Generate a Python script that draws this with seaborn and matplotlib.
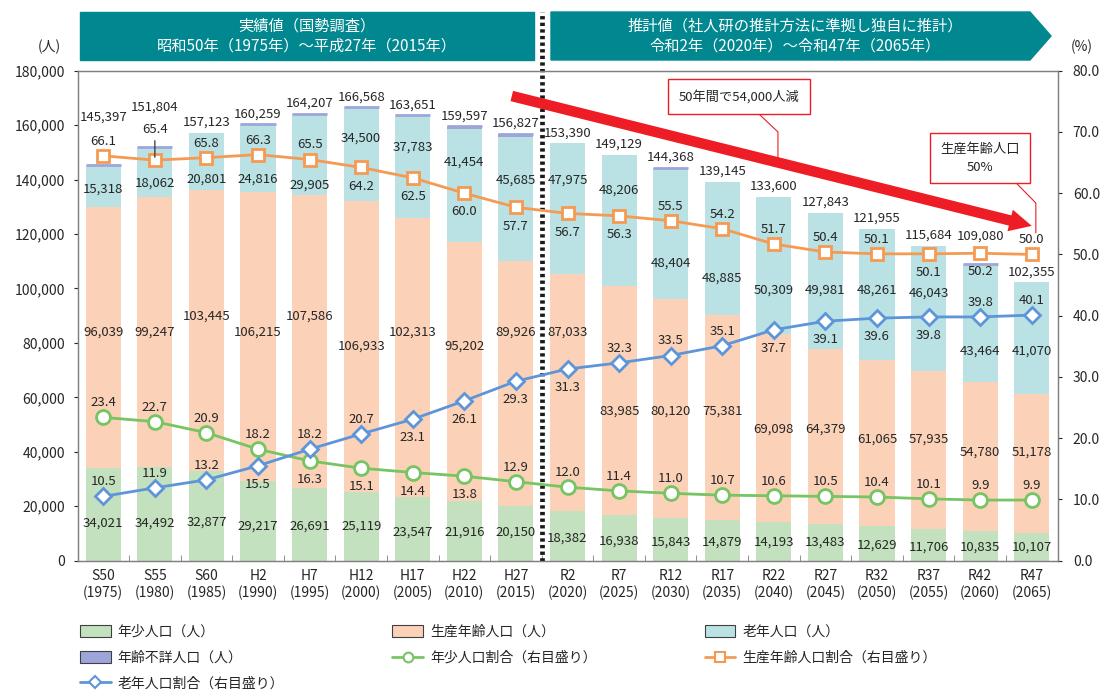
import numpy as np
import pandas as pd
import seaborn as sns
import matplotlib.pyplot as plt
from matplotlib.patches import Rectangle, Polygon, Patch
from matplotlib.lines import Line2D
from matplotlib.ticker import FuncFormatter, MultipleLocator

periods = ["S50", "S55", "S60", "H2", "H7", "H12", "H17", "H22", "H27",
           "R2", "R7", "R12", "R17", "R22", "R27", "R32", "R37", "R42", "R47"]
years = [1975, 1980, 1985, 1990, 1995, 2000, 2005, 2010, 2015,
         2020, 2025, 2030, 2035, 2040, 2045, 2050, 2055, 2060, 2065]

young = [34021, 34492, 32877, 29217, 26691, 25119, 23547, 21916, 20150,
         18382, 16938, 15843, 14879, 14193, 13483, 12629, 11706, 10835, 10107]
working = [96039, 99247, 103445, 106215, 107586, 106933, 102313, 95202, 89926,
           87033, 83985, 80120, 75381, 69098, 64379, 61065, 57935, 54780, 51178]
old = [15318, 18062, 20801, 24816, 29905, 34500, 37783, 41454, 45685,
       47975, 48206, 48404, 48885, 50309, 49981, 48261, 46043, 43464, 41070]
total = [145397, 151804, 157123, 160259, 164207, 166568, 163651, 159597, 156827,
         153390, 149129, 144368, 139145, 133600, 127843, 121955, 115684, 109080, 102355]

young_pct = [23.4, 22.7, 20.9, 18.2, 16.3, 15.1, 14.4, 13.8, 12.9,
             12.0, 11.4, 11.0, 10.7, 10.6, 10.5, 10.4, 10.1, 9.9, 9.9]
working_pct = [66.1, 65.4, 65.8, 66.3, 65.5, 64.2, 62.5, 60.0, 57.7,
               56.7, 56.3, 55.5, 54.2, 51.7, 50.4, 50.1, 50.1, 50.2, 50.0]
old_pct = [10.5, 11.9, 13.2, 15.5, 18.2, 20.7, 23.1, 26.1, 29.3,
           31.3, 32.3, 33.5, 35.1, 37.7, 39.1, 39.6, 39.8, 39.8, 40.1]

# where the value labels sit (thousands of people), as arranged in the original
young_lbl = [13.7, 13.7, 14.0, 12.7, 12.7, 12.7, 10.5, 10.5, 10.5,
             8.2, 7.2, 6.7, 6.7, 7.0, 7.0, 5.8, 5.1, 5.1, 5.1]
work_lbl = [84.1, 84.1, 89.9, 84.1, 89.9, 79.0, 84.1, 79.0, 84.1,
            84.1, 55.0, 55.0, 55.0, 48.3, 48.3, 44.7, 44.7, 39.8, 39.8]
old_lbl = [136.6, 138.8, 140.3, 140.3, 138.1, 155.2, 152.1, 146.3, 139.9,
           139.9, 136.2, 109.3, 103.8, 99.5, 99.5, 99.5, 98.2, 77.0, 77.0]
total_lift = [34.5, 29, 7.5, 7.5, 7.5, 7.5, 7.5, 7.5, 7.5,
              7.5, 7.5, 7.5, 7.5, 7.5, 7.5, 7.5, 7.5, 20, 7.5]
# +1 label above the marker, -1 below
young_side = [1, 1, 1, 1, -1, -1, -1, -1, 1, 1, 1, 1, 1, 1, 1, 1, 1, 1, 1]
work_side = [1, 1, 1, 1, 1, -1, -1, -1, -1, -1, -1, 1, 1, 1, 1, 1, -1, -1, 1]
old_side = [1, 1, 1, -1, 1, 1, -1, -1, -1, -1, 1, 1, 1, -1, -1, -1, -1, 1, 1]

c_young = "#C4E1BF"
c_work = "#FBD2B8"
c_old = "#BAE2E4"
c_unknown = "#9DA6D9"
c_young_ln = "#77C463"
c_work_ln = "#F59A52"
c_old_ln = "#5D95D8"
c_banner = "#00878F"
c_red = "#EE1C25"
c_text = "#262626"

sns.set_style("ticks")
plt.rcParams["font.family"] = ["Noto Sans CJK JP", "DejaVu Sans"]

W, H = 1105, 691
def fx(px):
    return px / W
def fy(py):
    return 1 - py / H

df = pd.DataFrame({"period": periods, "young": young, "working": working,
                   "old": old, "total": total})
df["cum_work"] = df["young"] + df["working"]
df["cum_old"] = df["cum_work"] + df["old"]
df["unknown"] = df["total"] - df["cum_old"]

fig = plt.figure(figsize=(11.05, 6.91), dpi=100)
ax = fig.add_axes([fx(77.5), fy(560.7), (1057.5 - 77.5) / W, (560.7 - 70.7) / H])

bw = 0.68
for col, c in [("total", c_unknown), ("cum_old", c_old),
               ("cum_work", c_work), ("young", c_young)]:
    sns.barplot(data=df, x="period", y=col, color=c, width=bw, saturation=1,
                errorbar=None, ax=ax, linewidth=0)
# thin unknown-age slice gets a minimum visible band, as in the source chart
for i, u in enumerate(df["unknown"]):
    if u > 0:
        ax.hlines(total[i], i - bw / 2, i + bw / 2, color=c_unknown, lw=2, zorder=2)

ax.set_xlim(-0.5, len(periods) - 0.5)
ax.set_ylim(0, 180000)
ax.yaxis.set_major_locator(MultipleLocator(20000))
ax.yaxis.set_major_formatter(FuncFormatter(lambda v, p: f"{int(v):,}"))
ax.set_xticks(range(len(periods)))
ax.set_xticklabels([f"{p}\n({y})" for p, y in zip(periods, years)],
                   fontsize=10, linespacing=1.25, color=c_text)
ax.set_xticks(np.arange(len(periods) - 1) + 0.5, minor=True)
ax.tick_params(axis="x", which="major", length=0, pad=6)
ax.tick_params(axis="x", which="minor", direction="in", length=4, color="#808080")
ax.tick_params(axis="y", length=3, pad=6, labelsize=10, colors=c_text)
ax.set_xlabel("")
ax.set_ylabel("")

ax2 = ax.twinx()
ax2.set_ylim(0, 80)
ax2.yaxis.set_major_locator(MultipleLocator(10))
ax2.yaxis.set_major_formatter(FuncFormatter(lambda v, p: f"{v:.1f}"))
ax2.tick_params(axis="y", length=3, pad=8, labelsize=10, colors=c_text)

for a in (ax, ax2):
    for s in a.spines.values():
        s.set_color("#808080")
        s.set_linewidth(0.9)

x = np.arange(len(periods))
sns.lineplot(x=x, y=young_pct, ax=ax2, color=c_young_ln, lw=2, marker="o",
             ms=10, mfc="white", mec=c_young_ln, mew=2)
sns.lineplot(x=x, y=working_pct, ax=ax2, color=c_work_ln, lw=2, marker="s",
             ms=9, mfc="white", mec=c_work_ln, mew=2)
sns.lineplot(x=x, y=old_pct, ax=ax2, color=c_old_ln, lw=2, marker="D",
             ms=8.5, mfc="white", mec=c_old_ln, mew=2)
ax2.set_xlim(-0.5, len(periods) - 0.5)
ax2.set_ylabel("")

lab = dict(ha="center", va="center", fontsize=9.5, color=c_text)
for i in range(len(periods)):
    ax.text(i, young_lbl[i] * 1000, f"{young[i]:,}", **lab)
    ax.text(i, work_lbl[i] * 1000, f"{working[i]:,}", **lab)
    ax.text(i, old_lbl[i] * 1000, f"{old[i]:,}", **lab)
    ax.annotate(f"{total[i]:,}", (i, total[i]), xytext=(0, total_lift[i]),
                textcoords="offset points", **lab)

for vals, sides in [(young_pct, young_side), (working_pct, work_side), (old_pct, old_side)]:
    for i, v in enumerate(vals):
        if vals is working_pct and i == 1:
            ax2.annotate(f"{v:.1f}", (i, v), xytext=(0, 22), textcoords="offset points",
                         arrowprops=dict(arrowstyle="-", color="#333333", lw=0.9,
                                         shrinkA=1, shrinkB=2), **lab)
            continue
        dy = 10.5 if sides[i] > 0 else -13.5
        ax2.annotate(f"{v:.1f}", (i, v), xytext=(0, dy), textcoords="offset points", **lab)

# dotted divider between census and projection
ax.axvline(8.5, ymin=0, ymax=(560.7 - 12) / 490, color="#1a1a1a", lw=3.4,
           ls=(0, (0.7, 0.7)), clip_on=False, zorder=5)

# red trend arrow and callouts
ax2.annotate("", xy=(18.0, 123000), xytext=(7.92, 170700),
             xycoords=ax.transData, textcoords=ax.transData,
             arrowprops=dict(arrowstyle="simple,tail_width=0.38,head_width=0.8,head_length=0.8",
                             mutation_scale=20, color=c_red, lw=0, shrinkA=0, shrinkB=0))
ax2.text(12.32, 170400, "50年間で54,000人減", transform=ax.transData,
         ha="center", va="center", fontsize=9.5, color=c_text, zorder=6,
         bbox=dict(boxstyle="square,pad=0.8", fc="white", ec=c_red, lw=1))
ax2.plot([12.65, 13.08, 13.08], [165200, 157500, 147100], transform=ax.transData,
         color=c_red, lw=0.8)
ax2.text(17.0, 147900, "生産年齢人口\n50%", transform=ax.transData,
         ha="center", va="center", fontsize=9.5, color=c_text, linespacing=1.5, zorder=6,
         bbox=dict(boxstyle="square,pad=0.75", fc="white", ec=c_red, lw=1))
ax2.plot([17.66, 18.08, 18.08], [139500, 131400, 120400], transform=ax.transData,
         color=c_red, lw=0.8)

# banners
fig.patches.append(Rectangle((fx(80), fy(60)), fx(534) - fx(80), fy(12) - fy(60),
                             transform=fig.transFigure, color=c_banner, zorder=0))
fig.patches.append(Polygon([(fx(551), fy(12)), (fx(1030), fy(12)), (fx(1051), fy(36)),
                            (fx(1030), fy(60)), (fx(551), fy(60))],
                           closed=True, transform=fig.transFigure, color=c_banner, zorder=0))
fig.text(fx(307), fy(36), "実績値（国勢調査）\n昭和50年（1975年）～平成27年（2015年）",
         ha="center", va="center", color="white", fontsize=11, linespacing=1.3)
fig.text(fx(795), fy(36), "推計値（社人研の推計方法に準拠し独自に推計）\n令和2年（2020年）～令和47年（2065年）",
         ha="center", va="center", color="white", fontsize=11, linespacing=1.3)
fig.text(fx(49), fy(47), "(人)", ha="center", va="center", fontsize=10, color=c_text)
fig.text(fx(1082), fy(47), "(%)", ha="center", va="center", fontsize=10, color=c_text)

# legend
edge = "#404040"
h_young = Patch(facecolor=c_young, edgecolor=edge, lw=0.8, label="年少人口（人）")
h_work = Patch(facecolor=c_work, edgecolor=edge, lw=0.8, label="生産年齢人口（人）")
h_old = Patch(facecolor=c_old, edgecolor=edge, lw=0.8, label="老年人口（人）")
h_unk = Patch(facecolor=c_unknown, edgecolor=edge, lw=0.8, label="年齢不詳人口（人）")
h_yp = Line2D([], [], color=c_young_ln, lw=2, marker="o", ms=7, mfc="white",
              mec=c_young_ln, mew=1.5, label="年少人口割合（右目盛り）")
h_wp = Line2D([], [], color=c_work_ln, lw=2, marker="s", ms=6.5, mfc="white",
              mec=c_work_ln, mew=1.5, label="生産年齢人口割合（右目盛り）")
h_op = Line2D([], [], color=c_old_ln, lw=2, marker="D", ms=6, mfc="white",
              mec=c_old_ln, mew=1.5, label="老年人口割合（右目盛り）")
fig.legend(handles=[h_young, h_unk, h_op, h_work, h_yp, h_old, h_wp],
           loc="upper left", bbox_to_anchor=(fx(80), fy(625)), ncol=3,
           frameon=False, fontsize=10, columnspacing=7.8, handlelength=2.2,
           handleheight=0.9, handletextpad=0.5, labelspacing=0.85,
           borderaxespad=0, borderpad=0)

fig.savefig("out.png", dpi=100)
